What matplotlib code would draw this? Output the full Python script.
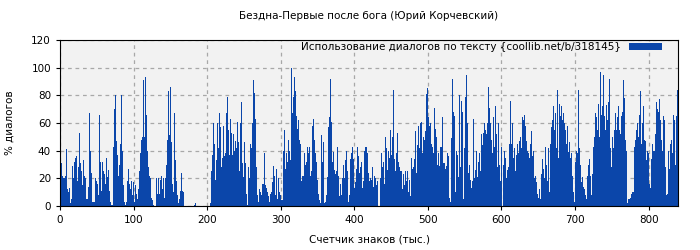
import numpy as np
import matplotlib
matplotlib.use('Agg')
import matplotlib.pyplot as plt

title = "Бездна-Первые после бога (Юрий Корчевский)"
legend_label = "Использование диалогов по тексту {coollib.net/b/318145}"
x_label = "Счетчик знаков (тыс.)"
y_label = "% диалогов"
x_max = 840

# share of dialogue, % (left to right)
part1 = [15, 31, 22, 20, 20, 22, 41, 12, 10, 13, 2, 5, 29, 20, 32, 35, 36, 18, 28, 53,
         31, 25, 15, 33, 22, 20, 5, 5, 14, 67, 40, 24, 3, 3, 3, 20, 18, 16, 8, 66,
         32, 11, 32, 25, 23, 16, 35, 21, 26, 11, 3, 1]
part2 = [1, 43, 70, 80, 47, 37, 22, 30, 45, 80, 40, 15, 3, 1, 3, 18, 27, 16, 12, 18,
         8, 17, 3, 15, 9, 5, 12, 25, 38, 48, 50, 91, 50, 93, 66, 40, 28, 22, 20, 6,
         4, 1, 0, 0, 20, 9, 20, 9, 19, 22, 12, 20, 6]
part3 = [20, 30, 48, 83, 51, 86, 46, 16, 10, 67, 33, 18, 8, 2, 5, 11, 24, 11, 10,
         0, 0, 0, 0, 0, 0, 0, 0, 0, 0, 1, 2, 0, 0, 0, 0, 0, 0, 0, 0, 0, 0, 0, 0, 0, 0,
         2, 25, 37, 60, 45, 19, 33, 60]
part4 = [42, 67, 57, 28, 35, 58, 36, 38, 67, 79, 55, 37, 63, 53, 37, 52, 40, 47, 42, 61,
         46, 25, 60, 75, 31, 21, 46, 31, 9, 1, 28, 20, 45, 42, 60, 91, 82, 63, 28, 8,
         3, 12, 10, 8, 16, 16, 38, 15, 13, 10, 7, 3, 9]
part5 = [10, 17, 29, 22, 8, 27, 5, 20, 10, 8, 4, 4, 40, 55, 27, 38, 32, 48, 40, 33,
         100, 67, 79, 93, 83, 65, 56, 62, 48, 45, 18, 22, 22, 38, 30, 32, 43, 38, 43, 22,
         25, 58, 63, 48, 38, 32, 19, 9, 4, 2, 51, 32, 46]
part6 = [2, 3, 8, 21, 57, 64, 92, 61, 32, 39, 26, 23, 25, 43, 22, 7, 16, 8, 20, 30,
         20, 33, 40, 25, 3, 8, 34, 38, 43, 34, 13, 17, 27, 43, 36, 24, 28, 32, 13, 18,
         40, 43, 38, 24, 18, 20, 19, 28, 14, 22, 20, 15, 18]
part7 = [0, 0, 20, 38, 28, 32, 16, 50, 42, 26, 40, 35, 55, 37, 50, 84, 34, 25, 38, 53,
         32, 28, 25, 25, 12, 23, 15, 25, 18, 25, 10, 19, 7, 35, 27, 28, 34, 54, 24, 44,
         58, 42, 60, 61, 38, 50, 48, 54, 81, 85, 64, 58, 60]
part8 = [45, 43, 38, 71, 56, 50, 30, 38, 29, 43, 43, 64, 31, 31, 27, 29, 38, 36, 6, 3,
         49, 92, 68, 65, 10, 40, 37, 21, 80, 28, 76, 68, 5, 42, 79, 95, 60, 24, 30, 19,
         13, 18, 63, 20, 26, 40, 21, 32, 38, 25, 52, 44, 53]
part9 = [60, 55, 52, 60, 86, 71, 60, 48, 38, 64, 43, 72, 52, 28, 60, 30, 18, 43, 0, 30,
         40, 35, 20, 26, 28, 45, 76, 45, 60, 35, 42, 25, 37, 45, 38, 47, 50, 42, 64, 62,
         66, 58, 47, 40, 38, 35, 45, 54, 36, 40, 20, 22, 17]
part10 = [9, 6, 12, 5, 23, 34, 27, 20, 43, 30, 18, 42, 10, 45, 57, 62, 72, 55, 67, 42,
          84, 35, 74, 65, 72, 62, 67, 60, 55, 45, 58, 39, 46, 35, 38, 22, 10, 3, 32, 40,
          38, 84, 42, 30, 17, 21, 14, 12, 8, 5, 22, 30, 34]
part11 = [22, 8, 23, 43, 50, 67, 64, 55, 74, 50, 97, 66, 72, 95, 65, 55, 73, 62, 75, 92,
          42, 28, 50, 42, 55, 67, 55, 64, 72, 55, 52, 65, 68, 91, 78, 48, 40, 2, 5, 5,
          6, 9, 10, 10, 43, 48, 55, 60, 50, 66, 83, 45, 60]
part12 = [72, 48, 47, 33, 40, 38, 16, 13, 34, 45, 40, 40, 52, 75, 70, 68, 77, 62, 48, 40,
          65, 62, 28, 8, 9, 40, 27, 45, 48, 38, 66, 62, 30, 65, 84]

values = np.array(part1 + part2 + part3 + part4 + part5 + part6 + part7 + part8
                  + part9 + part10 + part11 + part12, dtype=float)
step = x_max / len(values)
xs = np.arange(len(values)) * step

fig = plt.figure(figsize=(7, 2.5), dpi=100)
ax = fig.add_axes([0.0857, 0.176, 0.8829, 0.664])
ax.set_facecolor('#f2f2f2')
ax.bar(xs, values, width=step, align='edge', color='#0b46aa', linewidth=0,
       label=legend_label, zorder=2)

ax.set_xlim(0, x_max)
ax.set_ylim(0, 120)
ax.set_xticks(np.arange(0, 801, 100))
ax.set_yticks(np.arange(0, 121, 20))
ax.tick_params(labelsize=7.5, length=3)
ax.grid(True, linestyle=(0, (3, 3)), color='#a8a8a8', linewidth=0.9, zorder=1)
ax.set_axisbelow(True)

ax.set_title(title, fontsize=7.5, pad=15)
ax.set_xlabel(x_label, fontsize=7.5, labelpad=7)
ax.set_ylabel(y_label, fontsize=7.5, labelpad=12)
ax.legend(loc='upper right', bbox_to_anchor=(0.985, 1.025), fontsize=7.5,
          frameon=False, markerfirst=False, handlelength=3.2, handleheight=0.6,
          borderaxespad=0.2)

fig.savefig('out.png')
